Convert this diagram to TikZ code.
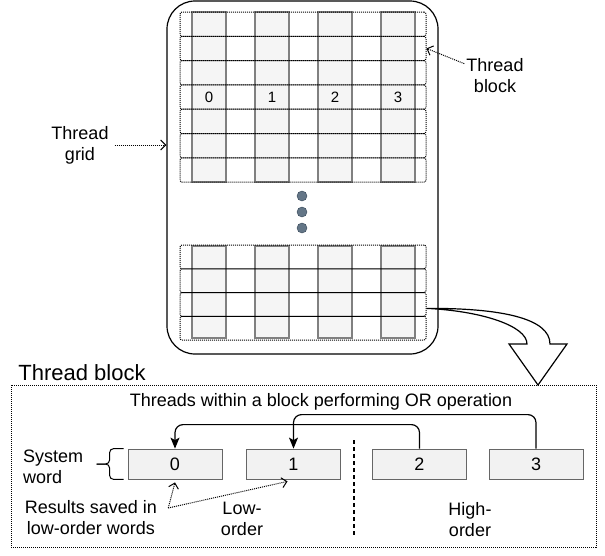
\documentclass[tikz,border=0pt]{standalone}
\usepackage{fontspec}
\setmainfont{Liberation Sans}
\usetikzlibrary{arrows.meta,calc}
\definecolor{slatefill}{HTML}{647687}
\definecolor{slateline}{HTML}{314354}

\begin{document}
\begin{tikzpicture}[x=1pt, y=-1pt,
    every node/.style={font=\fontsize{18}{21}\selectfont, inner sep=2pt, align=center},
    col/.style={draw=black!50, fill=black!4, line width=1.2pt, minimum width=34, inner sep=0pt},
    row/.style={draw, dash pattern=on 1pt off 1pt, line width=1pt, rounded corners=2pt, minimum width=246, inner sep=0pt},
    word/.style={draw=black!60, fill=black!5, line width=0.8pt, minimum width=94, minimum height=30, inner sep=0pt},
    dot/.style={circle, draw=slateline, fill=slatefill, minimum size=10, inner sep=0pt},
    pointer/.style={dash pattern=on 1pt off 1pt, line width=1pt, -{Straight Barb[length=5pt,width=10pt]}},
    flow/.style={line width=1.2pt, rounded corners=8, -{Stealth[length=11pt,width=9pt,inset=2.5pt]}}]
    \useasboundingbox (0,0) rectangle (605,555);

    % the grid of blocks
    \node[draw, line width=1.2pt, rounded corners=28, minimum width=271, minimum height=353, inner sep=0pt] (grid) at (302.5,177.5) {};
    \foreach \i in {1,...,4} {
        \node[col, minimum height=170] (c\i) at ({146+63*\i},97) {};
        \node[col, minimum height=92] (d\i) at ({146+63*\i},292) {};
    }
    \foreach \j in {1,...,7}
        \node[row, minimum height=24.3] (r\j) at (303,{12+24.3*(\j-0.5)}) {};
    \foreach \j in {1,...,4}
        \node[row, minimum height=23.75] (b\j) at (303,{245+23.75*(\j-0.5)}) {};
    \foreach \i/\n in {1/0,2/1,3/2,4/3}
        \node[font=\fontsize{15}{17}\selectfont] (n\i) at (c\i |- r4) {\n};
    \foreach \k/\y in {1/196,2/212,3/228}
        \node[dot] (dot\k) at (302,\y) {};

    \node (gridlbl) at (80,145) {Thread\\grid};
    \draw[pointer, shorten <=4pt] (gridlbl) -- (gridlbl -| grid.west);
    \node (blklbl) at (495,76) {Thread\\block};
    \draw[pointer] (blklbl) -- (r2.east);

    % big arrow down to the block
    \coordinate (tail) at ([yshift=-4pt]b3.east);
    \draw[line width=1.2pt, fill=white] (tail) .. controls (500,308) and (550,318) .. (550,344)
        -- (567,344) -- (538,385) -- (509,344) -- (527,344)
        .. controls (527,326) and (482,311) .. cycle;

    % one thread block
    \node[draw, dash pattern=on 1pt off 1pt, line width=0.9pt, minimum width=585, minimum height=162, inner sep=0pt] (tblock) at (303.5,466) {};
    \node[font=\fontsize{22}{26}\selectfont] (tbtitle) at (82,373) {Thread block};
    \node (oplbl) at (321,402) {Threads within a block performing OR operation};
    \foreach \i/\x in {0/175,1/293.5,2/419.5,3/536}
        \node[word] (w\i) at (\x,464) {\i};
    \draw[flow] (w2.north) -- ++(0,-24) -| (w0.north);
    \draw[flow] (w3.north) -- ++(0,-34) -| (w1.north);
    \draw[line width=1.2pt, dash pattern=on 4pt off 3pt] (354,440) -- (354,536);

    \node[anchor=west, align=left] (syslbl) at (21,467) {System\\word};
    \draw[line width=1pt, rounded corners=4] ([xshift=-4pt]w0.north west) -- ++(-14,0) |- ([xshift=-31pt]w0.west);
    \draw[line width=1pt, rounded corners=4] ([xshift=-4pt]w0.south west) -- ++(-14,0) |- ([xshift=-31pt]w0.west);

    \node (reslbl) at (91,518) {Results saved in\\low-order words};
    \coordinate (resout) at ([xshift=9pt,yshift=10pt]reslbl.east);
    \draw[pointer] (resout) -- ([yshift=-3pt]w0.south);
    \draw[pointer] (resout) -- ([xshift=-6pt,yshift=-2pt]w1.south);

    \node (lowlbl) at (242,519) {Low-\\order};
    \node (highlbl) at (470,520) {High-\\order};
\end{tikzpicture}
\end{document}
